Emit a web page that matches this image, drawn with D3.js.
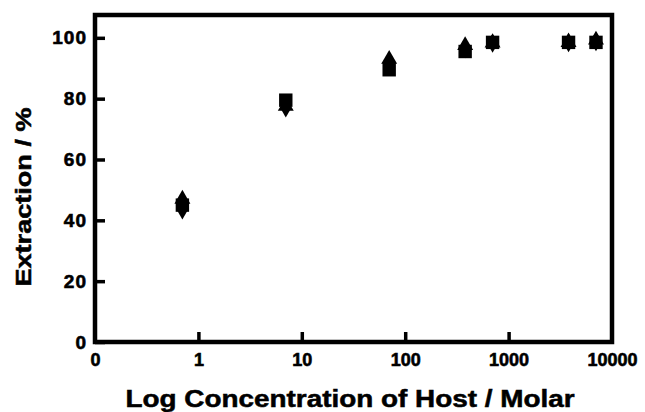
<!DOCTYPE html>
<html>
<head>
<meta charset="utf-8">
<script src="https://cdn.jsdelivr.net/npm/d3@7"></script>
<style>
  body { margin: 0; background: #fff; }
  svg { display: block; }
  text { font-family: "Liberation Sans", Arial, sans-serif; font-weight: bold; fill: #000; }
</style>
</head>
<body>
<div id="chart"></div>
<script>
// concentration of host (log axis)
var concentrations = [0.7, 7, 70, 380, 700, 3800, 7000]
// extraction % per marker series
var squareValues = [45, 79.5, 89.5, 95.5, 98.5, 98.5, 98.5]
var triangleValues = [47, 77.5, 93, 97.5, 98.3, 98.5, 99.3]
var diamondValues = [43.5, 77, 91.5, 96.5, 98.3, 98.5, 98.8]

var xTicks = [0.1, 1, 10, 100, 1000, 10000]
var xTickLabels = ["0", "1", "10", "100", "1000", "10000"]
var yTicks = [0, 20, 40, 60, 80, 100]

var width = 645, height = 412
var plotLeft = 95, plotRight = 612, plotTop = 15, plotBottom = 342

var svg = d3.select("#chart").append("svg")
    .attr("width", width)
    .attr("height", height)

var x = d3.scaleLog()
    .domain([0.1, 10000])
    .range([plotLeft, plotRight])

var y = d3.scaleLinear()
    .domain([0, 107.5])
    .range([plotBottom, plotTop])

// frame
svg.append("rect")
    .attr("x", plotLeft)
    .attr("y", plotTop)
    .attr("width", plotRight - plotLeft)
    .attr("height", plotBottom - plotTop)
    .attr("fill", "none")
    .attr("stroke", "#000")
    .attr("stroke-width", 4.5)

// y ticks (inward)
var yAxis = d3.axisLeft(y).tickValues(yTicks).tickSize(-10).tickPadding(8)
var yg = svg.append("g")
    .attr("transform", "translate(" + plotLeft + ",0)")
    .call(yAxis)
yg.select(".domain").remove()
yg.selectAll(".tick line").attr("stroke", "#000").attr("stroke-width", 3.5)
yg.selectAll(".tick text")
    .attr("font-size", null)
    .attr("font-family", null)
    .style("font-size", "19px")
    .style("letter-spacing", "1px")
    .attr("stroke", "#000")
    .attr("stroke-width", 0.6)

// x ticks (inward)
var xAxis = d3.axisBottom(x)
    .tickValues(xTicks)
    .tickFormat(function (d, i) { return xTickLabels[i] })
    .tickSize(-10)
    .tickPadding(11)
var xg = svg.append("g")
    .attr("transform", "translate(0," + plotBottom + ")")
    .call(xAxis)
xg.select(".domain").remove()
xg.selectAll(".tick line")
    .attr("stroke", "#000")
    .attr("stroke-width", 3.5)
    .attr("display", function (d) { return (d === 0.1 || d === 10000) ? "none" : null })
xg.selectAll(".tick text")
    .attr("font-size", null)
    .attr("font-family", null)
    .style("font-size", "18px")
    .attr("stroke", "#000")
    .attr("stroke-width", 0.6)

// markers
var series = [
    { values: diamondValues, type: d3.symbolDiamond, size: 110 },
    { values: triangleValues, type: d3.symbolTriangle, size: 110 },
    { values: squareValues, type: d3.symbolSquare, size: 180 }
]

series.forEach(function (s) {
    svg.append("g").selectAll("path")
        .data(s.values)
        .enter()
        .append("path")
        .attr("d", d3.symbol().type(s.type).size(s.size))
        .attr("transform", function (d, i) {
            return "translate(" + x(concentrations[i]) + "," + y(d) + ")"
        })
        .attr("fill", "#000")
})

// axis titles
svg.append("text")
    .attr("x", 350)
    .attr("y", 407)
    .attr("text-anchor", "middle")
    .attr("textLength", 449)
    .attr("lengthAdjust", "spacingAndGlyphs")
    .attr("stroke", "#000")
    .attr("stroke-width", 0.5)
    .style("font-size", "23px")
    .text("Log Concentration of Host / Molar")

svg.append("text")
    .attr("transform", "translate(31,197) rotate(-90)")
    .attr("text-anchor", "middle")
    .attr("textLength", 179)
    .attr("lengthAdjust", "spacingAndGlyphs")
    .attr("stroke", "#000")
    .attr("stroke-width", 0.5)
    .style("font-size", "22px")
    .text("Extraction / %")
</script>
</body>
</html>
